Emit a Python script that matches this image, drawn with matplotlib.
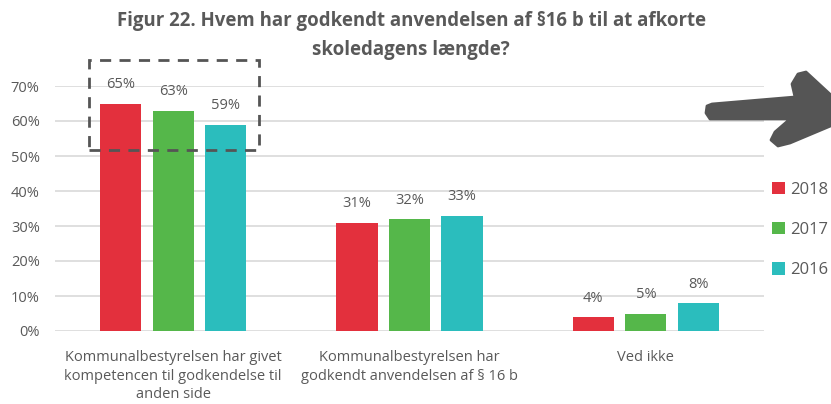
import numpy as np
import matplotlib
matplotlib.use("Agg")
import matplotlib.pyplot as plt
from matplotlib.patches import Rectangle, Polygon

plt.rcParams["font.family"] = ["Open Sans", "DejaVu Sans"]

CATEGORIES = ["Kommunalbestyrelsen har givet\nkompetencen til godkendelse til\nanden side",
              "Kommunalbestyrelsen har\ngodkendt anvendelsen af § 16 b",
              "Ved ikke"]
YEARS = ["2018", "2017", "2016"]
V2018 = [0.65, 0.31, 0.04]
V2017 = [0.63, 0.32, 0.05]
V2016 = [0.59, 0.33, 0.08]
COLORS = ["#E3303D", "#55B74A", "#2BBDBD"]
TITLE = "Figur 22. Hvem har godkendt anvendelsen af §16 b til at afkorte\nskoledagens længde?"
GREY = "#595959"

W, H = 831, 404
fig = plt.figure(figsize=(W / 100, H / 100), dpi=100)
ax = fig.add_axes([55 / W, (H - 331) / H, (764 - 55) / W, (331 - 86) / H])

x = np.arange(len(CATEGORIES))
bw, step = 0.174, 0.222
for i, (yr, vals, c) in enumerate(zip(YEARS, [V2018, V2017, V2016], COLORS)):
    bars = ax.bar(x + (i - 1) * step, vals, bw, color=c, label=yr, zorder=3)
    for b, v in zip(bars, vals):
        ax.annotate("%d%%" % round(v * 100), (b.get_x() + b.get_width() / 2, v),
                    xytext=(0, 8), textcoords="offset points", ha="center", va="bottom",
                    fontsize=10.5, color=GREY)

ax.set_xlim(-0.5, 2.5)
ax.set_ylim(0, 0.70)
ax.set_yticks(np.arange(0, 0.71, 0.1))
ax.set_yticklabels(["%d%%" % t for t in range(0, 71, 10)])
ax.set_xticks(x)
ax.set_xticklabels(CATEGORIES, linespacing=1.3)
ax.tick_params(axis="both", length=0, colors=GREY, labelsize=10.5)
ax.tick_params(axis="x", pad=14)
ax.tick_params(axis="y", pad=11)
ax.grid(axis="y", color="#d9d9d9", lw=1.2, zorder=0)
for s in ax.spines.values():
    s.set_visible(False)

# dashed highlight round the first group
ax.add_patch(Rectangle((-0.356, 0.517), 0.72, 0.257, fill=False, ls=(0, (4, 3)),
                       lw=2, ec="#555555", clip_on=False, zorder=4))

fig.text(0.495, 0.972, TITLE, ha="center", va="top", fontsize=13.4, fontweight="bold",
         color=GREY, linespacing=1.6)

leg = ax.legend(loc="upper left", bbox_to_anchor=(772 / W, (H - 182) / H),
                bbox_transform=fig.transFigure, frameon=False, fontsize=12,
                handlelength=0.75, handleheight=0.75, handletextpad=0.35,
                labelspacing=1.45, borderaxespad=0, borderpad=0)
for t in leg.get_texts():
    t.set_color(GREY)

# grey hand-drawn style arrow leaving the top right corner (pixel outline)
ARROW_PX = [(707, 106), (712, 104), (795, 97), (792, 84), (798, 74), (806, 72),
            (845, 108), (840, 122), (790, 143), (778, 146), (771, 140), (775, 132),
            (790, 119), (710, 119), (706, 113)]
pts = [(px / 100, (H - py) / 100) for px, py in ARROW_PX]
fig.patches.append(Polygon(pts, closed=True, fc="#555555", ec="#555555", lw=2,
                           joinstyle="round", transform=fig.dpi_scale_trans, figure=fig))

fig.savefig("out.png", dpi=100)
